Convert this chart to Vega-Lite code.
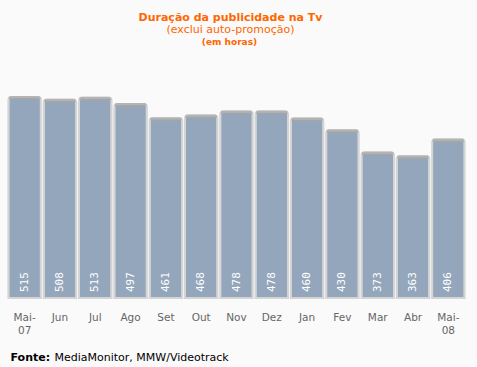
{
  "$schema": "https://vega.github.io/schema/vega-lite/v6.json",
  "autosize": "none",
  "width": 459,
  "height": 238,
  "padding": {"left": 7, "top": 60, "right": 11, "bottom": 69},
  "background": "#fafafa",
  "config": {"view": {"stroke": null}, "font": "DejaVu Sans"},
  "title": {
    "text": "Duração da publicidade na Tv",
    "subtitle": "(exclui auto-promoção)",
    "anchor": "middle",
    "dx": -6,
    "offset": 2,
    "font": "DejaVu Sans",
    "fontSize": 11,
    "fontWeight": "bold",
    "color": "#ff6600",
    "subtitleFont": "DejaVu Sans",
    "subtitleFontSize": 11,
    "subtitleColor": "#ff6600",
    "subtitlePadding": 1
  },
  "data": {
    "values": [
      {"mes": "Mai-07", "horas": 515},
      {"mes": "Jun", "horas": 508},
      {"mes": "Jul", "horas": 513},
      {"mes": "Ago", "horas": 497},
      {"mes": "Set", "horas": 461},
      {"mes": "Out", "horas": 468},
      {"mes": "Nov", "horas": 478},
      {"mes": "Dez", "horas": 478},
      {"mes": "Jan", "horas": 460},
      {"mes": "Fev", "horas": 430},
      {"mes": "Mar", "horas": 373},
      {"mes": "Abr", "horas": 363},
      {"mes": "Mai-08", "horas": 406}
    ]
  },
  "encoding": {
    "x": {
      "field": "mes",
      "type": "nominal",
      "sort": null,
      "scale": {"paddingInner": 0.08, "paddingOuter": 0.04},
      "axis": {
        "title": "Fonte:",
        "titleFont": "DejaVu Sans",
        "titleFontSize": 11,
        "titleFontWeight": "bold",
        "titleColor": "#000000",
        "titleAlign": "left",
        "titleBaseline": "middle",
        "titleX": 3,
        "titleY": 59,
        "labelAngle": 0,
        "labelExpr": "indexof(datum.value,'-')>0 ? [slice(datum.value,0,4), slice(datum.value,4)] : datum.value",
        "labelColor": "#666666",
        "labelFont": "DejaVu Sans",
        "labelFontSize": 10.5,
        "labelPadding": 14,
        "labelLineHeight": 13,
        "ticks": false,
        "domain": false
      }
    }
  },
  "layer": [
    {
      "mark": {"type": "bar", "color": "#94a6bc", "stroke": "#d4d4d4", "strokeWidth": 2, "cornerRadiusTopLeft": 3, "cornerRadiusTopRight": 3},
      "encoding": {
        "y": {
          "field": "horas",
          "type": "quantitative",
          "scale": {"domain": [0, 610], "nice": false},
          "axis": {
            "title": "(em horas)",
            "titleAngle": 0,
            "titleFont": "DejaVu Sans",
            "titleFontSize": 9,
            "titleFontWeight": "bold",
            "titleColor": "#ff6600",
            "titleAlign": "center",
            "titleBaseline": "middle",
            "titleX": 222,
            "titleY": -19,
            "labels": false,
            "ticks": false,
            "domain": false,
            "grid": false
          }
        }
      }
    },
    {
      "mark": {"type": "tick", "color": "#a6a6a6", "thickness": 4, "size": 32, "yOffset": 1, "cornerRadius": 2},
      "encoding": {
        "y": {"field": "horas", "type": "quantitative", "axis": null}
      }
    },
    {
      "mark": {"type": "text", "angle": 270, "align": "left", "baseline": "middle", "dx": 6, "color": "#ffffff", "font": "DejaVu Sans Mono", "fontSize": 11},
      "encoding": {
        "y": {"datum": 0, "type": "quantitative",
          "axis": {
            "orient": "right",
            "title": "MediaMonitor, MMW/Videotrack",
            "titleAngle": 0,
            "titleFont": "DejaVu Sans",
            "titleFontSize": 11,
            "titleFontWeight": "normal",
            "titleColor": "#000000",
            "titleAlign": "left",
            "titleBaseline": "middle",
            "titleX": -412,
            "titleY": 297,
            "labels": false,
            "ticks": false,
            "domain": false,
            "grid": false
          }
        },
        "text": {"field": "horas", "type": "quantitative"}
      }
    }
  ],
  "resolve": {"axis": {"y": "independent"}}
}
